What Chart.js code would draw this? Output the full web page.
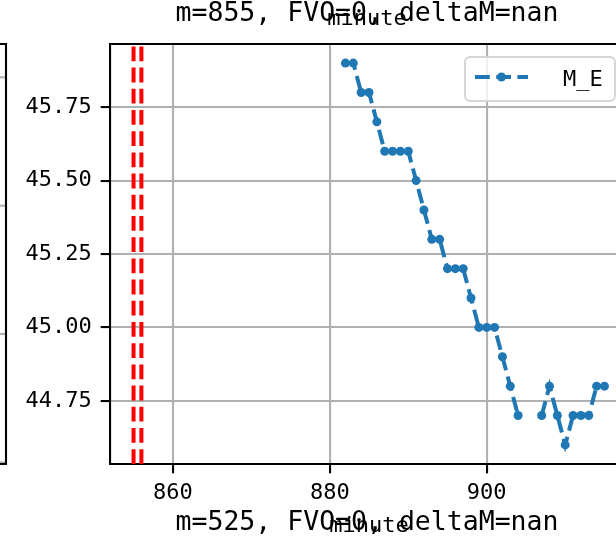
<!DOCTYPE html>
<html>
<head>
<meta charset="utf-8">
<script src="https://cdn.jsdelivr.net/npm/chart.js@4.4.1/dist/chart.umd.min.js"></script>
<style>
  html, body { margin: 0; padding: 0; background: #fff; overflow: hidden; }
  #wrap { width: 616px; height: 546px; overflow: hidden; }
  canvas { display: block; }
</style>
</head>
<body>
<div id="wrap"><canvas id="meChart" width="640" height="546"></canvas></div>
<script>
// ---- values ----
const minutes = [882, 883, 884, 885, 886, 887, 888, 889, 890, 891, 892, 893, 894, 895, 896, 897, 898,
                 899, 900, 901, 902, 903, 904, 905, 906, 907, 908, 909, 910, 911, 912, 913, 914, 915];
const meValues = [45.9, 45.9, 45.8, 45.8, 45.7, 45.6, 45.6, 45.6, 45.6, 45.5, 45.4, 45.3, 45.3, 45.2, 45.2, 45.2, 45.1,
                  45.0, 45.0, 45.0, 44.9, 44.8, 44.7, null, null, 44.7, 44.8, 44.7, 44.6, 44.7, 44.7, 44.7, 44.8, 44.8];
const markMinutes = [855, 856];          // red dashed verticals
const xTicks = [860, 880, 900];
const yTicks = [44.75, 45.00, 45.25, 45.50, 45.75];
const xRange = [852, 918];
const yRange = [44.535, 45.965];

const seriesName = 'M_E';
const panelTitle = 'm=855, FVO=0, deltaM=nan';
const belowTitle = 'm=525, FVO=0, deltaM=nan';   // title of the panel underneath
const xLabel = 'minute';

const FONT = '"DejaVu Sans Mono", "Liberation Mono", monospace';
const BLUE = '#1f77b4';
const DASH = [14.8, 6.4];

// red verticals: each goes bottom -> top of the axes
const markSets = markMinutes.map(m => ({
  data: [{ x: m, y: yRange[0] }, { x: m, y: yRange[1] }],
  borderColor: '#ff0000',
  borderWidth: 4,
  borderDash: DASH,
  pointRadius: 0,
  fill: false
}));

// texts and frame pieces that are not part of Chart.js axes
const panelDecor = {
  id: 'panelDecor',
  beforeDraw(chart) {
    const ctx = chart.ctx;
    const a = chart.chartArea;
    // right edge of the neighbouring panel on the left
    ctx.save();
    ctx.strokeStyle = '#b0b0b0';
    ctx.lineWidth = 2.1;
    [77.3, 205.7, 334, 462.4].forEach(y => {
      ctx.beginPath(); ctx.moveTo(0, y); ctx.lineTo(6, y); ctx.stroke();
    });
    ctx.strokeStyle = '#000';
    ctx.beginPath();
    ctx.moveTo(0, a.top); ctx.lineTo(6, a.top); ctx.lineTo(6, a.bottom); ctx.lineTo(0, a.bottom);
    ctx.stroke();
    ctx.restore();
  },
  afterDraw(chart) {
    const ctx = chart.ctx;
    const a = chart.chartArea;
    const cx = (a.left + a.right) / 2;
    ctx.save();
    // top spine
    ctx.strokeStyle = '#000';
    ctx.lineWidth = 2.1;
    ctx.beginPath(); ctx.moveTo(a.left - 1, a.top); ctx.lineTo(a.right, a.top); ctx.stroke();

    ctx.fillStyle = '#000';
    ctx.textAlign = 'center';
    ctx.textBaseline = 'alphabetic';
    ctx.font = '26.5px ' + FONT;
    ctx.fillText(panelTitle, cx - 2, 21);
    ctx.fillText(belowTitle, cx - 2, 530);
    // x label of the panel above
    ctx.font = '22px ' + FONT;
    ctx.fillText(xLabel, cx - 2, 25);

    // legend
    const w = 150, h = 44;
    const lx = a.right - 13 - w, ly = a.top + 13;
    ctx.fillStyle = 'rgba(255,255,255,0.8)';
    ctx.strokeStyle = '#d6d6d6';
    ctx.lineWidth = 2;
    ctx.beginPath();
    ctx.roundRect(lx, ly, w, h, 5);
    ctx.fill();
    ctx.stroke();
    const sy = ly + 20;
    ctx.strokeStyle = BLUE;
    ctx.lineWidth = 4;
    ctx.setLineDash(DASH);
    ctx.beginPath(); ctx.moveTo(lx + 10, sy); ctx.lineTo(lx + 63, sy); ctx.stroke();
    ctx.setLineDash([]);
    ctx.fillStyle = BLUE;
    ctx.beginPath(); ctx.arc(lx + 36.5, sy, 4.5, 0, Math.PI * 2); ctx.fill();
    ctx.fillStyle = '#000';
    ctx.textAlign = 'left';
    ctx.font = '22px ' + FONT;
    ctx.fillText(seriesName, lx + 98, ly + 29);
    ctx.restore();
  }
};

const tickFont = { family: FONT, size: 22 };

new Chart(document.getElementById('meChart'), {
  type: 'line',
  data: {
    datasets: [
      {
        label: seriesName,
        data: minutes.map((m, i) => ({ x: m, y: meValues[i] })),
        borderColor: BLUE,
        backgroundColor: BLUE,
        borderWidth: 4,
        borderDash: DASH,
        pointRadius: 4.5,
        pointBorderWidth: 0,
        pointBackgroundColor: BLUE,
        tension: 0,
        spanGaps: false,
        fill: false
      },
      ...markSets
    ]
  },
  options: {
    responsive: false,
    animation: false,
    events: [],
    layout: { padding: { top: 44, right: 12, left: 0, bottom: 0 } },
    plugins: {
      legend: { display: false },
      tooltip: { enabled: false },
      title: { display: false }
    },
    scales: {
      x: {
        type: 'linear',
        min: xRange[0],
        max: xRange[1],
        afterBuildTicks: s => { s.ticks = xTicks.map(v => ({ value: v })); },
        afterFit: s => { s.height = 82; },
        grid: { color: '#b0b0b0', lineWidth: 2.1, tickLength: 9.3, tickColor: '#000', tickWidth: 2.1 },
        border: { color: '#000', width: 2.1 },
        ticks: { color: '#000', font: tickFont, padding: 7, maxRotation: 0, autoSkip: false,
                 callback: v => String(v) },
        title: { display: true, text: xLabel, color: '#000', font: tickFont, padding: { top: 0, bottom: 7 } }
      },
      y: {
        type: 'linear',
        min: yRange[0],
        max: yRange[1],
        afterBuildTicks: s => { s.ticks = yTicks.map(v => ({ value: v })); },
        afterFit: s => { s.width = 110; },
        grid: { color: '#b0b0b0', lineWidth: 2.1, tickLength: 9.3, tickColor: '#000', tickWidth: 2.1 },
        border: { color: '#000', width: 2.1 },
        ticks: { color: '#000', font: tickFont, padding: 9, autoSkip: false,
                 callback: v => v.toFixed(2) }
      }
    }
  },
  plugins: [panelDecor]
});
</script>
</body>
</html>
